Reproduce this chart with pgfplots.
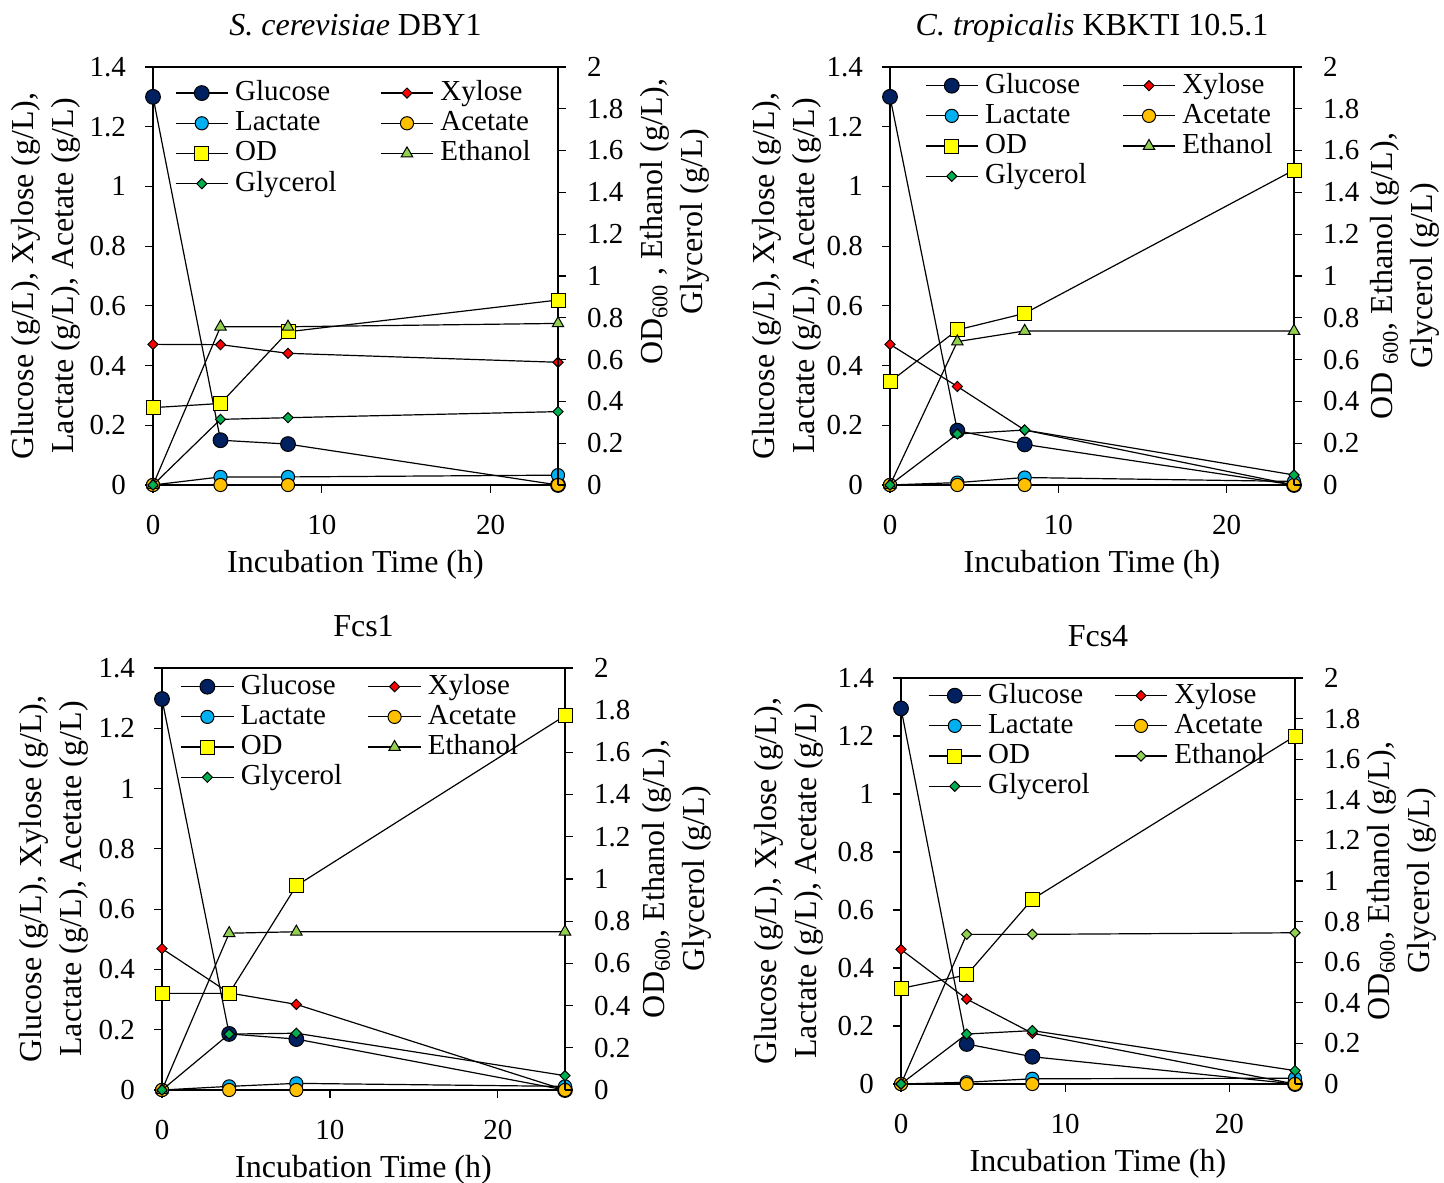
\documentclass[border=0pt]{standalone}
\usepackage{fontspec}
\setmainfont{Liberation Serif}
\usepackage{pgfplots}
\pgfplotsset{compat=1.18}
\definecolor{cglu}{HTML}{002060}
\definecolor{cxyl}{HTML}{FF0000}
\definecolor{clac}{HTML}{00B0F0}
\definecolor{cace}{HTML}{FFC000}
\definecolor{cod}{HTML}{FFFF00}
\definecolor{ceth}{HTML}{92D050}
\definecolor{cgly}{HTML}{00B050}
\newcommand\ticksize{\fontsize{14.5}{17}\selectfont}
\newcommand\labsize{\fontsize{16}{20}\selectfont}
\pgfplotsset{
  myax/.style={scale only axis, xmin=0, xmax=24, xtick={0,10,20},
    tick align=outside, major tick length=4pt, clip=false,
    axis line style={line width=0.6pt}, every tick/.style={black, line width=0.6pt},
    tick label style={font=\ticksize},
    /pgf/number format/assume math mode=true,
    every axis x label/.style={at={(axis description cs:0.5,0)}, anchor=base, yshift=-43.8pt, font=\labsize},
    every axis title/.style={at={(axis description cs:0.5,1)}, anchor=base, yshift=15.7pt, font=\labsize}},
  leftax/.style={myax, ymin=0, ymax=1.4, ytick={0,0.2,0.4,0.6,0.8,1,1.2,1.4}, tick pos=left,
    yticklabel style={xshift=-6pt}, xticklabel style={yshift=-7.5pt},
    legend columns=2,
    legend image code/.code={\draw[mark repeat=2,mark phase=2,##1] plot coordinates {(0cm,0cm) (0.46cm,0cm) (0.92cm,0cm)};},
    legend cell align=left,
    legend style={draw=none, fill=none, font=\ticksize, inner sep=0pt, outer sep=0pt,
      at={(axis description cs:0,1)}, anchor=north west,
      nodes={inner sep=0.8pt, text height=10.5pt, text depth=3pt},
      /tikz/every odd column/.append style={column sep=2.5pt}}},
  rightax/.style={myax, ymin=0, ymax=2, ytick={0,0.2,0.4,0.6,0.8,1,1.2,1.4,1.6,1.8,2},
    yticklabel style={xshift=7pt},
    axis x line=none, axis y line*=right},
  lyl/.style={every axis y label/.style={at={(axis description cs:#1,0.5)}, rotate=90, anchor=center, align=center, font=\labsize}},
  ryl/.style 2 args={every axis y label/.style={at={(axis description cs:#1,#2)}, rotate=90, anchor=center, align=center, font=\labsize}},
  glu/.style={black, line width=0.6pt, mark=*, mark size=3.7pt, mark options={solid, draw=black, fill=cglu, line width=0.5pt}},
  xyl/.style={black, line width=0.6pt, mark=square*, mark size=1.8pt, mark options={solid, rotate=45, draw=black, fill=cxyl, line width=0.5pt}},
  lac/.style={black, line width=0.6pt, mark=*, mark size=3.3pt, mark options={solid, draw=black, fill=clac, line width=0.5pt}},
  ace/.style={black, line width=0.6pt, mark=*, mark size=3.3pt, mark options={solid, draw=black, fill=cace, line width=0.5pt}},
  od/.style={black, line width=0.6pt, mark=square*, mark size=3.5pt, mark options={solid, draw=black, fill=cod, line width=0.5pt}},
  eth/.style={black, line width=0.6pt, mark=triangle*, mark size=3.3pt, mark options={solid, draw=black, fill=ceth, line width=0.5pt}},
  ethd/.style={black, line width=0.6pt, mark=square*, mark size=1.8pt, mark options={solid, rotate=45, draw=black, fill=ceth, line width=0.5pt}},
  gly/.style={black, line width=0.6pt, mark=square*, mark size=1.8pt, mark options={solid, rotate=45, draw=black, fill=cgly, line width=0.5pt}},
}
\begin{document}
\begin{tikzpicture}
\path[use as bounding box] (0,0) rectangle (722pt,591pt);
% ---------- Panel 1 ----------
\begin{axis}[leftax, at={(76.5pt,348.5pt)}, anchor=south west, width=202.5pt, height=209pt,
  title={\textit{S. cerevisiae} DBY1}, xlabel={Incubation Time (h)},
  lyl=-0.2642, ylabel={Glucose (g/L), Xylose (g/L),\\Lactate (g/L), Acetate (g/L)},
  legend style={xshift=11pt, yshift=-5.5pt, /tikz/column 2/.style={column sep=21pt}}]
\addplot[glu] coordinates {(0,1.3) (4,0.15) (8,0.137) (24,0)};
\addplot[xyl] coordinates {(0,0.471) (4,0.47) (8,0.441) (24,0.411)};
\addplot[lac] coordinates {(0,0) (4,0.027) (8,0.027) (24,0.033)};
\addplot[ace] coordinates {(0,0) (4,0) (8,0) (24,0)};
\addlegendimage{od}
\addlegendimage{eth}
\addlegendimage{gly}
\legend{Glucose,Xylose,Lactate,Acetate,OD,Ethanol,Glycerol}
\end{axis}
\begin{axis}[rightax, at={(76.5pt,348.5pt)}, anchor=south west, width=202.5pt, height=209pt,
  ryl={1.2877}{0.63}, ylabel={OD\textsubscript{600} , Ethanol (g/L),\\Glycerol (g/L)}]
\addplot[od] coordinates {(0,0.37) (4,0.39) (8,0.733) (24,0.885)};
\addplot[eth] coordinates {(0,0) (4,0.757) (8,0.757) (24,0.773)};
\addplot[gly] coordinates {(0,0) (4,0.314) (8,0.322) (24,0.351)};
\end{axis}
% ---------- Panel 2 ----------
\begin{axis}[leftax, at={(445pt,348.5pt)}, anchor=south west, width=202pt, height=209pt,
  title={\textit{C. tropicalis} KBKTI 10.5.1}, xlabel={Incubation Time (h)},
  lyl=-0.2562, ylabel={Glucose (g/L), Xylose (g/L),\\Lactate (g/L), Acetate (g/L)},
  legend style={xshift=17.5pt, yshift=-1.8pt, /tikz/column 2/.style={column sep=17pt}}]
\addplot[glu] coordinates {(0,1.3) (4,0.182) (8,0.136) (24,0)};
\addplot[xyl] coordinates {(0,0.471) (4,0.33) (8,0.184) (24,0)};
\addplot[lac] coordinates {(0,0) (4,0.008) (8,0.025) (24,0.012)};
\addplot[ace] coordinates {(0,0) (4,0) (8,0) (24,0)};
\addlegendimage{od}
\addlegendimage{eth}
\addlegendimage{gly}
\legend{Glucose,Xylose,Lactate,Acetate,OD,Ethanol,Glycerol}
\end{axis}
\begin{axis}[rightax, at={(445pt,348.5pt)}, anchor=south west, width=202pt, height=209pt,
  ryl={1.2748}{0.5}, ylabel={OD \textsubscript{600}, Ethanol (g/L),\\Glycerol (g/L)}]
\addplot[od] coordinates {(0,0.494) (4,0.742) (8,0.821) (24,1.507)};
\addplot[eth] coordinates {(0,0) (4,0.686) (8,0.737) (24,0.737)};
\addplot[gly] coordinates {(0,0) (4,0.244) (8,0.263) (24,0.048)};
\end{axis}
% ---------- Panel 3 ----------
\begin{axis}[leftax, at={(81pt,46pt)}, anchor=south west, width=201.5pt, height=211pt,
  title={Fcs1}, xlabel={Incubation Time (h)},
  lyl=-0.268, ylabel={Glucose (g/L), Xylose (g/L),\\Lactate (g/L), Acetate (g/L)},
  legend style={xshift=9.3pt, yshift=-1.8pt, /tikz/column 2/.style={column sep=12pt}}]
\addplot[glu] coordinates {(0,1.297) (4,0.186) (8,0.169) (24,0)};
\addplot[xyl] coordinates {(0,0.469) (4,0.322) (8,0.284) (24,0)};
\addplot[lac] coordinates {(0,0) (4,0.012) (8,0.022) (24,0.012)};
\addplot[ace] coordinates {(0,0) (4,0) (8,0) (24,0)};
\addlegendimage{od}
\addlegendimage{eth}
\addlegendimage{gly}
\legend{Glucose,Xylose,Lactate,Acetate,OD,Ethanol,Glycerol}
\end{axis}
\begin{axis}[rightax, at={(81pt,46pt)}, anchor=south west, width=201.5pt, height=211pt,
  ryl={1.2779}{0.5}, ylabel={OD\textsubscript{600}, Ethanol (g/L),\\Glycerol (g/L)}]
\addplot[od] coordinates {(0,0.458) (4,0.458) (8,0.968) (24,1.774)};
\addplot[eth] coordinates {(0,0) (4,0.743) (8,0.75) (24,0.75)};
\addplot[gly] coordinates {(0,0) (4,0.265) (8,0.269) (24,0.068)};
\end{axis}
% ---------- Panel 4 ----------
\begin{axis}[leftax, at={(450.5pt,49pt)}, anchor=south west, width=197pt, height=203pt,
  title={Fcs4}, xlabel={Incubation Time (h)},
  lyl=-0.2843, ylabel={Glucose (g/L), Xylose (g/L),\\Lactate (g/L), Acetate (g/L)},
  legend style={xshift=13.5pt, yshift=-1.3pt, /tikz/column 2/.style={column sep=11.5pt}}]
\addplot[glu] coordinates {(0,1.295) (4,0.138) (8,0.094) (24,0)};
\addplot[xyl] coordinates {(0,0.464) (4,0.293) (8,0.175) (24,0)};
\addplot[lac] coordinates {(0,0) (4,0.006) (8,0.018) (24,0.02)};
\addplot[ace] coordinates {(0,0) (4,0) (8,0) (24,0)};
\addlegendimage{od}
\addlegendimage{ethd}
\addlegendimage{gly}
\legend{Glucose,Xylose,Lactate,Acetate,OD,Ethanol,Glycerol}
\end{axis}
\begin{axis}[rightax, at={(450.5pt,49pt)}, anchor=south west, width=197pt, height=203pt,
  ryl={1.2716}{0.5}, ylabel={OD\textsubscript{600}, Ethanol (g/L),\\Glycerol (g/L)}]
\addplot[od] coordinates {(0,0.471) (4,0.537) (8,0.91) (24,1.714)};
\addplot[ethd] coordinates {(0,0) (4,0.737) (8,0.737) (24,0.745)};
\addplot[gly] coordinates {(0,0) (4,0.246) (8,0.263) (24,0.066)};
\end{axis}
\end{tikzpicture}
\end{document}
